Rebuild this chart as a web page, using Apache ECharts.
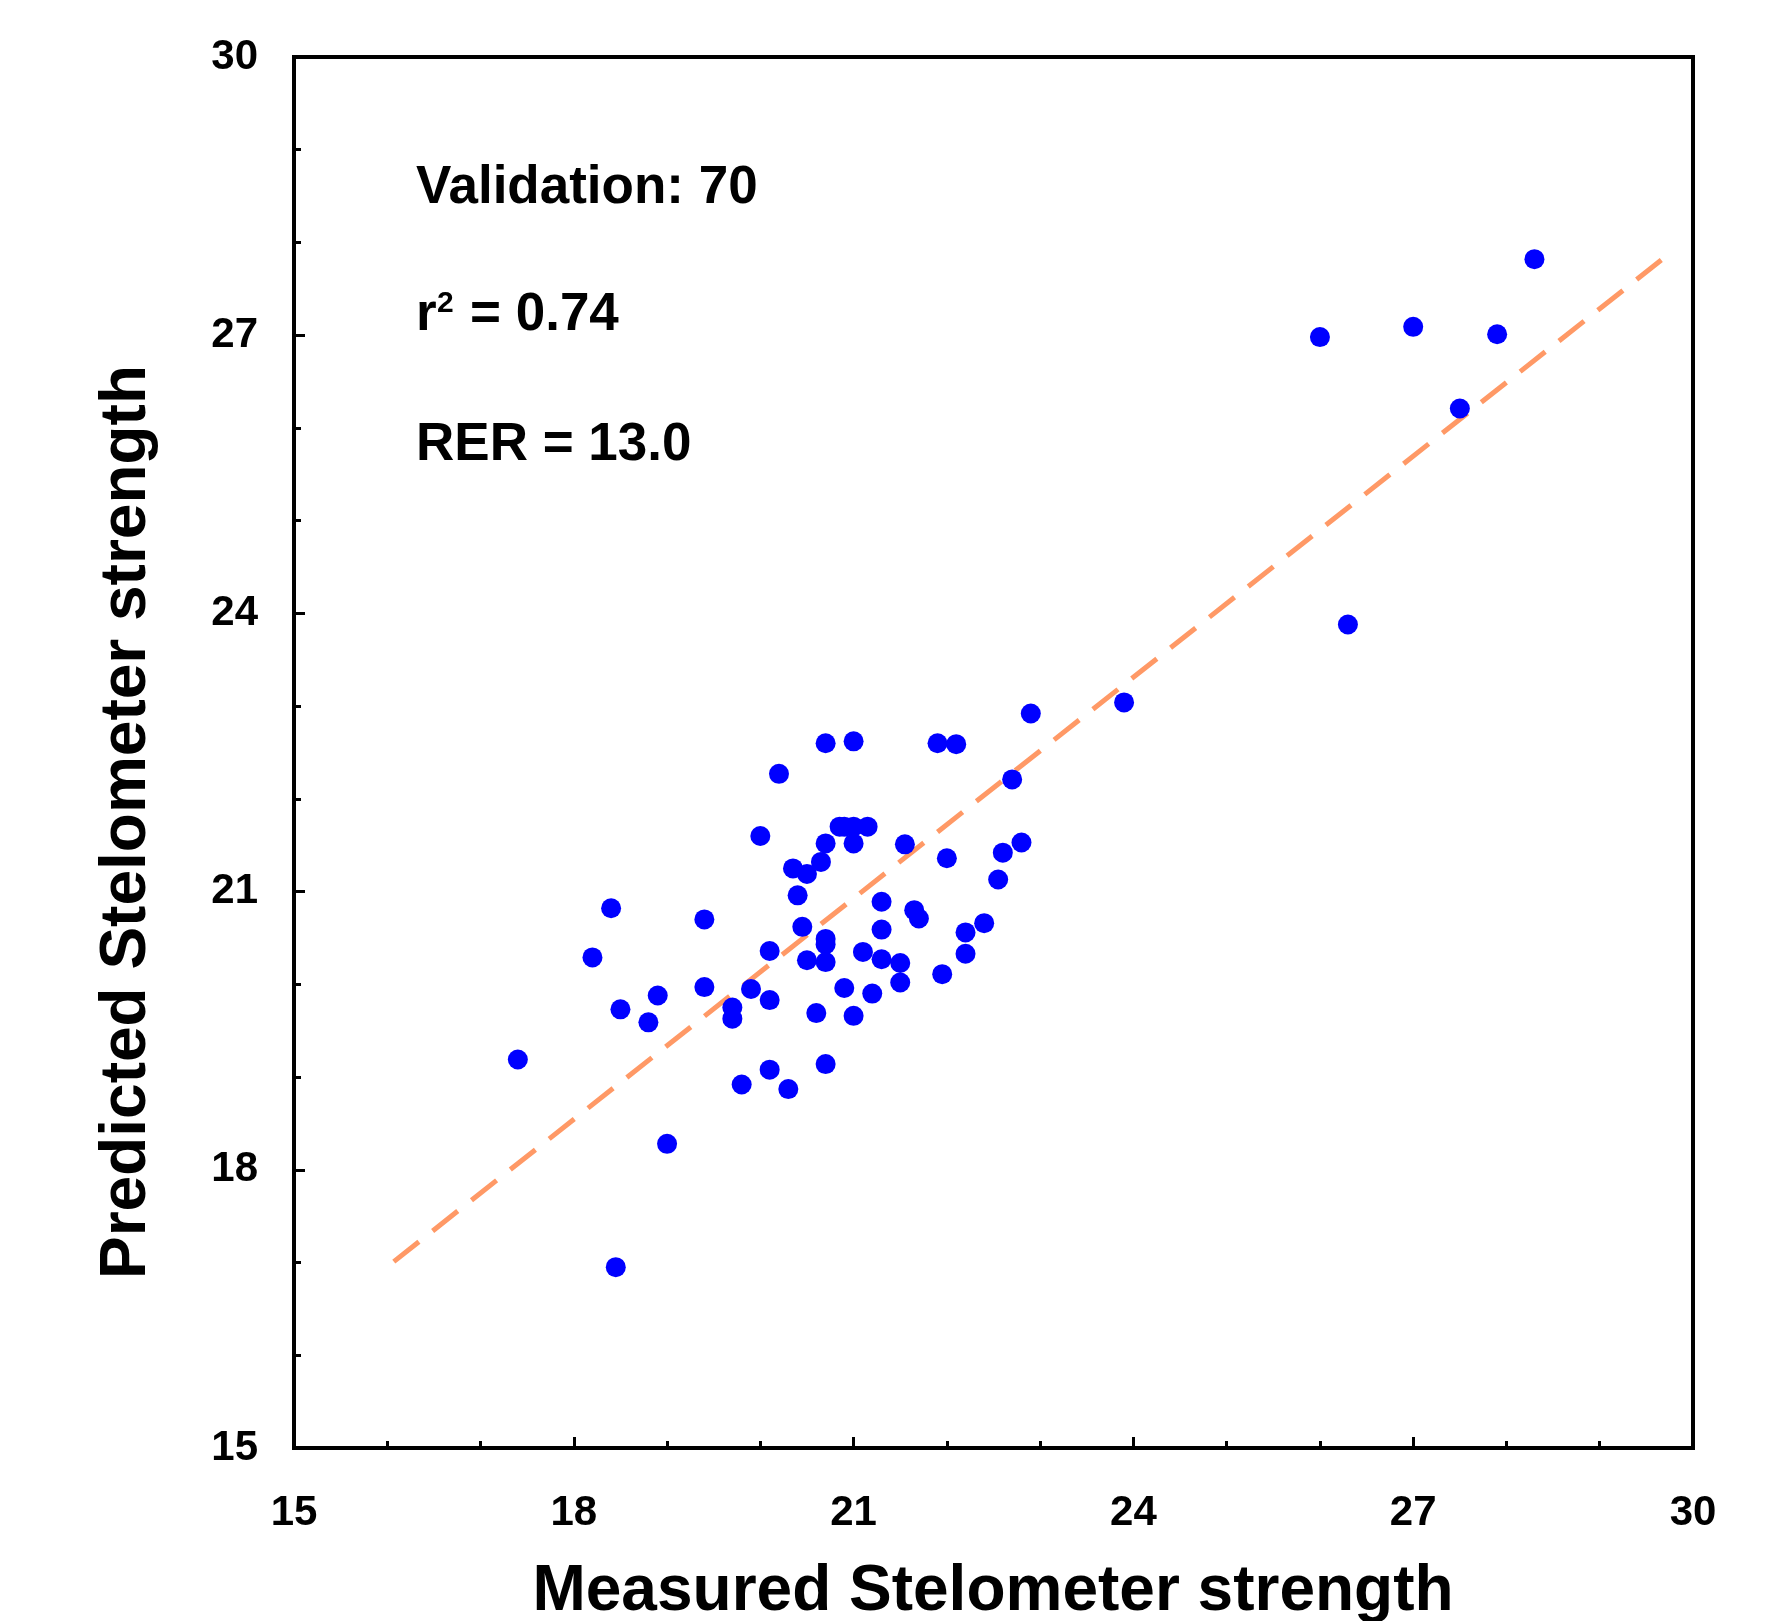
<!DOCTYPE html>
<html>
<head>
<meta charset="utf-8">
<script src="https://cdn.jsdelivr.net/npm/echarts@6/dist/echarts.min.js"></script>
<style>
  html, body { margin: 0; padding: 0; background: #fff; }
  #chart { width: 1782px; height: 1621px; }
</style>
</head>
<body>
<div id="chart"></div>
<script>
// measured (x) and predicted (y) Stelometer strength, validation set
var measured = [
  28.3, 26.0, 27.0, 27.9, 27.5, 26.3, 23.9, 22.9, 20.7, 21.0,
  21.9, 22.1, 20.2, 22.7, 20.0, 20.85, 20.9, 21.0, 21.15, 20.7,
  21.0, 21.55, 22.8, 22.6, 22.0, 20.65, 20.35, 20.5, 22.55, 20.4,
  21.3, 21.65, 21.7, 18.4, 19.4, 20.45, 21.3, 22.4, 22.2, 20.7,
  20.7, 20.1, 21.1, 22.2, 18.2, 20.5, 20.7, 21.3, 21.5, 21.95,
  21.5, 19.4, 19.9, 20.9, 21.2, 18.9, 20.1, 18.5, 19.7, 19.7,
  20.6, 21.0, 18.8, 17.4, 20.1, 20.7, 19.8, 20.3, 19.0, 18.45
];
var predicted = [
  27.82, 26.98, 27.09, 27.01, 26.21, 23.88, 23.04, 22.92, 22.60, 22.62,
  22.60, 22.59, 22.27, 22.21, 21.60, 21.70, 21.70, 21.70, 21.70, 21.52,
  21.52, 21.51, 21.53, 21.42, 21.36, 21.32, 21.25, 21.19, 21.13, 20.96,
  20.89, 20.80, 20.71, 20.82, 20.70, 20.62, 20.59, 20.66, 20.56, 20.49,
  20.43, 20.36, 20.35, 20.33, 20.29, 20.26, 20.24, 20.27, 20.23, 20.11,
  20.02, 19.97, 19.95, 19.96, 19.90, 19.88, 19.83, 19.73, 19.75, 19.63,
  19.69, 19.66, 19.59, 19.19, 19.08, 19.14, 18.92, 18.87, 18.28, 16.95
];
// fitted line end points
var fitX = [16.07, 29.66];
var fitY = [17.01, 27.81];

var axisMin = 15, axisMax = 30, labelStep = 3;
var fontFam = '"Liberation Sans", Arial, sans-serif';

var points = measured.map(function (v, i) { return [v, predicted[i]]; });
var fitLine = fitX.map(function (v, i) { return [v, fitY[i]]; });

function axisCfg(margin) {
  return {
    type: 'value',
    min: axisMin,
    max: axisMax,
    interval: labelStep,
    splitLine: { show: false },
    axisLine: { show: true, onZero: false, lineStyle: { color: '#000', width: 4 } },
    axisTick: { show: true, inside: true, length: 11, lineStyle: { color: '#000', width: 3 } },
    minorTick: { show: true, splitNumber: 3, length: 7, lineStyle: { color: '#000', width: 3 } },
    axisLabel: {
      margin: margin,
      color: '#000',
      fontSize: 42,
      fontWeight: 'bold',
      fontFamily: fontFam
    }
  };
}

function txt(x, y, s, size, align) {
  return {
    type: 'text', x: x, y: y,
    style: {
      text: s, fill: '#000', font: 'bold ' + size + 'px ' + fontFam,
      align: align || 'left', verticalAlign: 'middle'
    }
  };
}

var chart = echarts.init(document.getElementById('chart'));
chart.setOption({
  backgroundColor: '#fff',
  animation: false,
  grid: {
    left: 294, top: 57, width: 1399, height: 1391,
    show: true, borderColor: '#000', borderWidth: 4,
    containLabel: false
  },
  xAxis: axisCfg(44),
  yAxis: axisCfg(36),
  series: [
    {
      name: 'fit',
      type: 'line',
      data: fitLine,
      symbol: 'none',
      lineStyle: { color: '#FF9966', width: 5, type: [32, 17.5], cap: 'butt' },
      z: 2
    },
    {
      name: 'Validation',
      type: 'scatter',
      data: points,
      symbolSize: 20,
      itemStyle: { color: '#0000FF', opacity: 1 },
      z: 3
    }
  ],
  graphic: [
    // x title centred on the plot
    txt(993, 1592, 'Measured Stelometer strength', 64, 'center'),
    {
      type: 'text', x: 127, y: 822, rotation: Math.PI / 2,
      style: { text: 'Predicted Stelometer strength', fill: '#000', font: 'bold 64px ' + fontFam,
        align: 'center', verticalAlign: 'middle' }
    },
    txt(416, 188, 'Validation: 70', 53),
    txt(416, 315, 'r', 53),
    txt(437, 304, '2', 30),
    txt(470, 315, '= 0.74', 53),
    txt(416, 445, 'RER = 13.0', 53)
  ]
});
</script>
</body>
</html>
